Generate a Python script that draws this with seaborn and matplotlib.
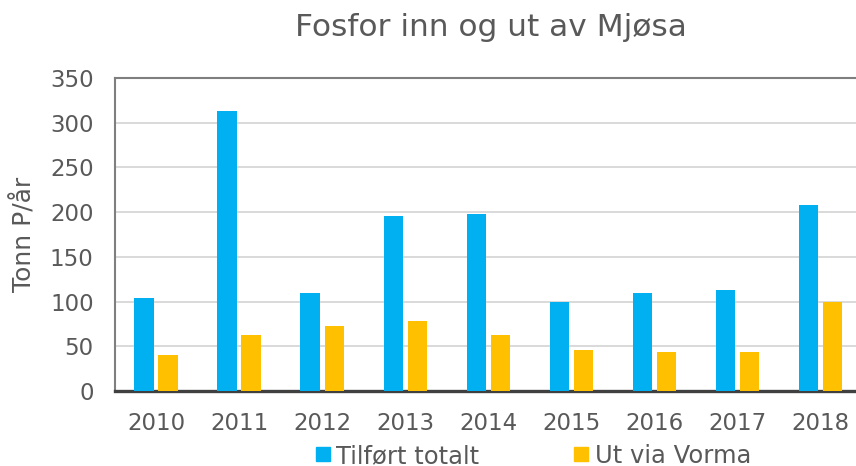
import matplotlib
matplotlib.use("Agg")
import matplotlib.pyplot as plt
import seaborn as sns
import pandas as pd
from matplotlib.lines import Line2D

years = ["2010", "2011", "2012", "2013", "2014", "2015", "2016", "2017", "2018"]
tilfort_totalt = [104, 313, 110, 196, 198, 100, 110, 113, 208]
ut_via_vorma = [40, 63, 73, 78, 63, 46, 44, 44, 100]
series_names = ["Tilført totalt", "Ut via Vorma"]
series_colors = ["#00B0F0", "#FFC000"]
y_ticks = [0, 50, 100, 150, 200, 250, 300, 350]

df = pd.DataFrame({
    "År": years * 2,
    "Tonn": tilfort_totalt + ut_via_vorma,
    "Serie": [series_names[0]] * len(years) + [series_names[1]] * len(years),
})

sns.set_theme(style="white")
plt.rcParams["font.family"] = ["DejaVu Sans"]
text_color = "#595959"

fig = plt.figure(figsize=(8.56, 4.66), dpi=100)
ax = fig.add_axes([114.5 / 856, 1 - 391 / 466, (862 - 114.5) / 856, (391 - 78) / 466])

sns.barplot(data=df, x="År", y="Tonn", hue="Serie", order=years,
            hue_order=series_names, palette=series_colors,
            width=0.58, gap=0.2, linewidth=0, saturation=1,
            legend=False, ax=ax, zorder=3)

ax.set_ylim(0, 350)
ax.set_yticks(y_ticks)
ax.set_xlim(-0.5, len(years) - 0.5)
ax.yaxis.grid(True, color="#D9D9D9", linewidth=1.4, zorder=0)
ax.set_axisbelow(True)

for side in ["top", "left", "right"]:
    ax.spines[side].set_color("#7F7F7F")
    ax.spines[side].set_linewidth(1.5)
ax.spines["bottom"].set_color("#404040")
ax.spines["bottom"].set_linewidth(2.4)

ax.tick_params(axis="both", length=0, labelsize=16.5, colors=text_color)
ax.tick_params(axis="y", pad=15)
ax.tick_params(axis="x", pad=15)
ax.set_xlabel("")
ax.set_ylabel("Tonn P/år", fontsize=18, color=text_color, labelpad=10)

fig.text(0.574, 0.940, "Fosfor inn og ut av Mjøsa", ha="center", va="center",
         fontsize=22.5, color=text_color)

handles = [Line2D([0], [0], marker="s", linestyle="", markersize=10,
                  markerfacecolor=c, markeredgecolor=c) for c in series_colors]
fig.legend(handles, series_names, loc="center", bbox_to_anchor=(0.620, 0.022),
           ncol=2, frameon=False, fontsize=17.5, handletextpad=0.05,
           columnspacing=3.7, labelcolor=text_color, handlelength=1.0,
           borderaxespad=0)

fig.savefig("out.png", dpi=100)
